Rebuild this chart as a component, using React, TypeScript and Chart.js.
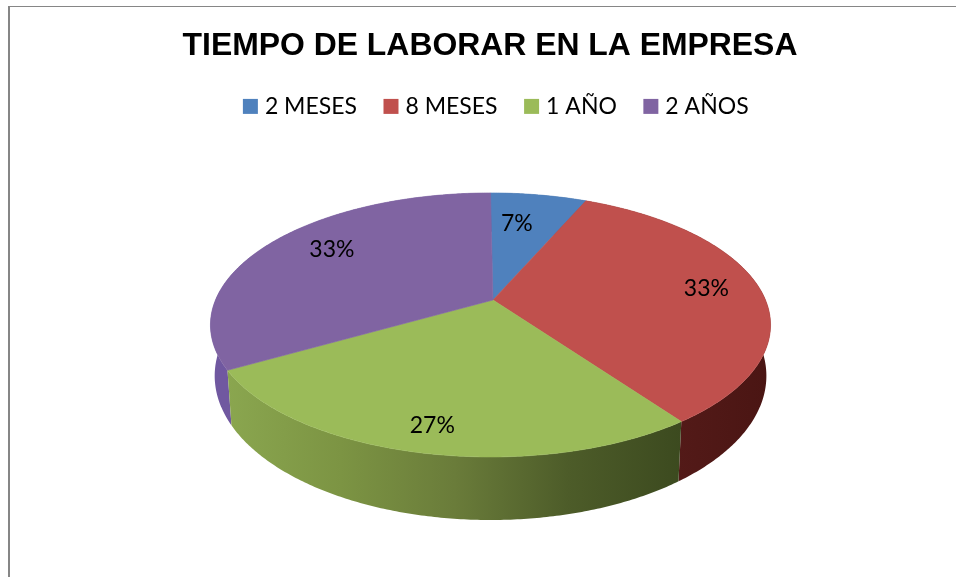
import React, { useEffect, useRef } from "react";
import { Chart, registerables } from "chart.js";

Chart.register(...registerables);

const TITLE = "TIEMPO DE LABORAR EN LA EMPRESA";
const categories = ["2 MESES", "8 MESES", "1 AÑO", "2 AÑOS"];
const responses = [1, 5, 4, 5];
const topColors = ["#4F81BD", "#C0504D", "#9BBB59", "#8064A2"];
const wallColors = [
  ["#3a5f8c", "#3a5f8c"],
  ["#5c1f1d", "#4a1513"],
  ["#8aa64f", "#7c9443", "#6a7c3a", "#4d5c29", "#3c4a1f"],
  ["#7058a0", "#7058a0"],
];
const labelNudge = [
  [-14, 10],
  [0, -1],
  [-5, 9],
  [18, -3],
];

// Projective view of the unit disc: gives the tilted, perspective pie.
const APEX_X = 493;
const RIM_X = 490.5;
const APEX_Y = 300;
const AX = 275;
const AY = 127.3;
const K = 0.189;
const LEGEND_SHIFT = 8;
const project = (angle: number, t: number) => {
  const u = Math.cos(angle) * t;
  const v = Math.sin(angle) * t;
  const w = 1 - K * v;
  return { x: APEX_X + (RIM_X - APEX_X) * t + (AX * u) / w, y: APEX_Y + (AY * v) / w };
};
const lower = (p: { x: number; y: number }) => ({
  x: APEX_X + 0.985 * (p.x - APEX_X),
  y: APEX_Y + 48.6 + 1.092 * (p.y - APEX_Y),
});
const rim = (a0: number, a1: number) => {
  const n = Math.max(2, Math.ceil(Math.abs(a1 - a0) / 0.01));
  const pts = [];
  for (let i = 0; i <= n; i++) pts.push(project(a0 + ((a1 - a0) * i) / n, 1));
  return pts;
};

const piePlugin = {
  id: "tiltedPie",
  afterLayout(chart: any) {
    chart.legend.left += LEGEND_SHIFT;
    chart.legend.right += LEGEND_SHIFT;
  },
  beforeDraw(chart: any) {
    const { ctx, width, height } = chart;
    ctx.save();
    ctx.fillStyle = "#fff";
    ctx.fillRect(0, 0, width, height);
    ctx.fillStyle = "#868686";
    ctx.fillRect(8, 6, 2, height - 6);
    ctx.fillRect(8, 6, width - 8, 1);
    ctx.restore();
  },
  beforeDatasetDraw(chart: any, args: any) {
    const { ctx } = chart;
    const arcs = chart.getDatasetMeta(args.index).data;
    ctx.save();
    // side walls
    for (const i of [0, 3, 1, 2]) {
      const pts = rim(arcs[i].startAngle, arcs[i].endAngle);
      const low = pts.map(lower).reverse();
      const xs = pts.concat(low).map((p) => p.x);
      const g = ctx.createLinearGradient(Math.min(...xs), 0, Math.max(...xs), 0);
      wallColors[i].forEach((c, j) => g.addColorStop(j / (wallColors[i].length - 1), c));
      ctx.fillStyle = g;
      ctx.beginPath();
      pts.concat(low).forEach((p, j) => (j ? ctx.lineTo(p.x, p.y) : ctx.moveTo(p.x, p.y)));
      ctx.closePath();
      ctx.fill();
    }
    // top faces
    arcs.forEach((el: any, i: number) => {
      const pts = rim(el.startAngle, el.endAngle);
      ctx.fillStyle = topColors[i];
      ctx.strokeStyle = topColors[i];
      ctx.lineWidth = 0.6;
      ctx.beginPath();
      ctx.moveTo(APEX_X, APEX_Y);
      pts.forEach((p) => ctx.lineTo(p.x, p.y));
      ctx.closePath();
      ctx.fill();
      ctx.stroke();
    });
    ctx.restore();
    return false;
  },
  afterDatasetsDraw(chart: any) {
    const { ctx } = chart;
    const arcs = chart.getDatasetMeta(0).data;
    const total = responses.reduce((a, b) => a + b, 0);
    ctx.save();
    ctx.fillStyle = "#000";
    ctx.font = '23px Lato, "Open Sans", sans-serif';
    ctx.textAlign = "center";
    ctx.textBaseline = "middle";
    arcs.forEach((el: any, i: number) => {
      const p = project((el.startAngle + el.endAngle) / 2, 0.8);
      ctx.fillText(
        Math.round((responses[i] / total) * 100) + "%",
        p.x + labelNudge[i][0],
        p.y + labelNudge[i][1]
      );
    });
    ctx.restore();
  },
};

export default function App() {
  const ref = useRef<HTMLCanvasElement>(null);
  useEffect(() => {
    document.body.style.margin = "0";
    const chart = new Chart(ref.current as HTMLCanvasElement, {
      type: "pie",
      data: {
        labels: categories,
        datasets: [{ data: responses, backgroundColor: topColors, borderWidth: 0 }],
      },
      options: {
        responsive: false,
        animation: false,
        layout: { padding: { left: 24, top: 30, bottom: 40, right: 0 } },
        plugins: {
          title: {
            display: true,
            text: TITLE,
            color: "#000",
            font: { family: '"Liberation Sans", Arial, sans-serif', size: 31.9, weight: "bold", lineHeight: 1 },
            padding: { top: 0, bottom: 2 },
          },
          legend: {
            position: "top",
            labels: {
              color: "#000",
              font: { family: 'Lato, "Open Sans", sans-serif', size: 23 },
              usePointStyle: true,
              pointStyle: "rect",
              boxWidth: 6,
              boxHeight: 15,
              padding: 31,
            },
          },
          tooltip: { enabled: false },
        },
      },
      plugins: [piePlugin],
    } as any);
    return () => chart.destroy();
  }, []);
  return <canvas ref={ref} width={956} height={577} style={{ display: "block" }} />;
}
